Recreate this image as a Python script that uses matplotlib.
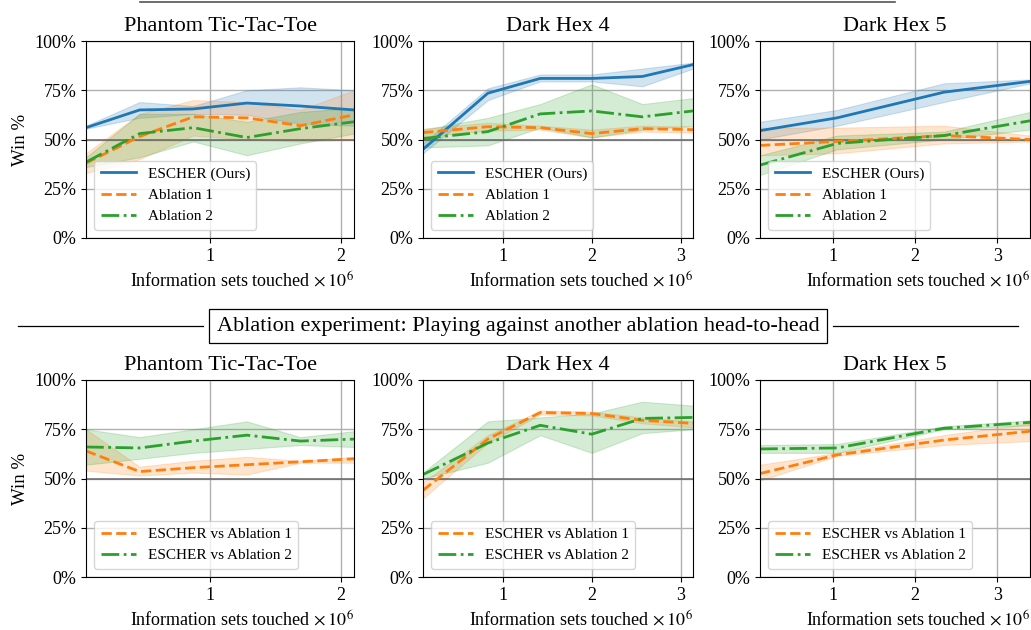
import matplotlib
matplotlib.use("Agg")
import matplotlib.pyplot as plt
from matplotlib.lines import Line2D

plt.rcParams['font.family'] = ['Liberation Serif', 'DejaVu Serif']
plt.rcParams['mathtext.fontset'] = 'stix'

BLUE = '#1f77b4'
ORANGE = '#ff7f0e'
GREEN = '#2ca02c'

# x values in millions of information sets touched
x_ptt = [0.05, 0.46, 0.87, 1.28, 1.69, 2.10]
x_dh4 = [0.10, 0.83, 1.42, 2.00, 2.57, 3.14]
x_dh5 = [0.11, 1.05, 2.35, 3.40]

# top row: ESCHER, Ablation 1, Ablation 2 vs baseline (mean, low, high)
ptt_escher = [56, 65, 65.5, 68.5, 67, 65]
ptt_escher_lo = [55.5, 61, 63, 62.5, 58, 57]
ptt_escher_hi = [57, 69, 67, 75, 76.5, 75]
ptt_abl1 = [38, 51.5, 61.5, 61, 57, 62.5]
ptt_abl1_lo = [33, 40, 52, 50, 49, 50]
ptt_abl1_hi = [43, 63, 70, 69, 65, 75]
ptt_abl2 = [38.5, 53, 56, 51, 55.5, 59]
ptt_abl2_lo = [36, 41, 49, 42, 48, 53]
ptt_abl2_hi = [41, 63, 63, 59, 64, 66]

dh4_escher = [45, 73.5, 81, 81, 82, 88]
dh4_escher_lo = [43, 70, 79.5, 79.5, 77, 86]
dh4_escher_hi = [48, 76, 83, 83, 86, 89]
dh4_abl1 = [53.5, 56.5, 56, 53, 55.5, 55]
dh4_abl1_lo = [51.5, 54.5, 55, 51, 54, 53.5]
dh4_abl1_hi = [55.5, 58.5, 57, 55, 57, 56.5]
dh4_abl2 = [50.5, 54, 63, 64.5, 61.5, 64.5]
dh4_abl2_lo = [46, 47, 56, 51, 55, 57]
dh4_abl2_hi = [55, 61, 68, 78, 68, 71]

dh5_escher = [54.5, 61, 74, 79.5]
dh5_escher_lo = [50, 57, 69, 78.5]
dh5_escher_hi = [59, 65, 78.5, 80.5]
dh5_abl1 = [47, 49, 52, 50]
dh5_abl1_lo = [42, 43, 48, 49]
dh5_abl1_hi = [56, 56, 57, 52]
dh5_abl2 = [37, 48, 52, 59.5]
dh5_abl2_lo = [32, 45, 50, 55]
dh5_abl2_hi = [42, 52, 54, 64]

# bottom row: head-to-head ESCHER vs ablations
h_ptt_a1 = [64, 53.5, 55.5, 57, 58.5, 60]
h_ptt_a1_lo = [54, 51.5, 53, 52, 58, 58]
h_ptt_a1_hi = [75, 56, 59, 61, 59, 61]
h_ptt_a2 = [66, 65.5, 69, 72, 69, 70]
h_ptt_a2_lo = [57, 60, 63, 65, 67, 66]
h_ptt_a2_hi = [75, 71, 75, 79, 71, 74]

h_dh4_a1 = [44, 70, 83.5, 83, 79.5, 78]
h_dh4_a1_lo = [40, 68, 82.5, 82, 78, 76]
h_dh4_a1_hi = [48, 72, 84.5, 84, 81, 79]
h_dh4_a2 = [52, 68, 77, 72.5, 80.5, 81]
h_dh4_a2_lo = [50, 58, 72, 63, 73, 75]
h_dh4_a2_hi = [53, 79, 81, 83, 89, 87]

h_dh5_a1 = [52.5, 62, 69.5, 74]
h_dh5_a1_lo = [49, 61.5, 67, 69]
h_dh5_a1_hi = [57, 63, 72, 78]
h_dh5_a2 = [65, 65.5, 75.5, 78.5]
h_dh5_a2_lo = [63, 63, 75, 77]
h_dh5_a2_hi = [67, 67.5, 76.5, 79.5]

titles = ['Phantom Tic-Tac-Toe', 'Dark Hex 4', 'Dark Hex 5']
xticks = [[1, 2], [1, 2, 3], [1, 2, 3]]
yticks = [0, 25, 50, 75, 100]

fig = plt.figure(figsize=(10.31, 6.30), dpi=100)
W, H = 1031, 630
cols = [(86, 354), (423, 693), (760, 1030)]
rows = [(41, 238), (380, 577)]


def make_ax(r, c):
    l, rt = cols[c]
    t, b = rows[r]
    ax = fig.add_axes([l / W, 1 - b / H, (rt - l) / W, (b - t) / H])
    return ax


def band(ax, x, y, lo, hi, color, ls, label):
    ax.fill_between(x, lo, hi, color=color, alpha=0.2, lw=0.8)
    ax.plot(x, y, color=color, ls=ls, lw=2, label=label)


def style(ax, c, x):
    ax.set_xlim(x[0], x[-1])
    ax.set_ylim(0, 100)
    ax.set_yticks(yticks)
    ax.set_yticklabels(['%d%%' % v for v in yticks])
    ax.set_xticks(xticks[c])
    ax.grid(True, color='#b0b0b0', lw=1)
    ax.axhline(50, color='#666666', lw=1.1, zorder=1.5)
    ax.set_axisbelow(True)
    ax.tick_params(labelsize=13)
    ax.set_title(titles[c], fontsize=16, pad=7)
    ax.set_xlabel('Information sets touched$\\,\\times10^6$', fontsize=13, loc='right', labelpad=4)
    if c == 0:
        ax.set_ylabel('Win %', fontsize=13.5)
    ax.legend(loc='lower left', fontsize=11, borderaxespad=0.55, handlelength=2.3)


top = [
    (x_ptt, [(ptt_escher, ptt_escher_lo, ptt_escher_hi), (ptt_abl1, ptt_abl1_lo, ptt_abl1_hi), (ptt_abl2, ptt_abl2_lo, ptt_abl2_hi)]),
    (x_dh4, [(dh4_escher, dh4_escher_lo, dh4_escher_hi), (dh4_abl1, dh4_abl1_lo, dh4_abl1_hi), (dh4_abl2, dh4_abl2_lo, dh4_abl2_hi)]),
    (x_dh5, [(dh5_escher, dh5_escher_lo, dh5_escher_hi), (dh5_abl1, dh5_abl1_lo, dh5_abl1_hi), (dh5_abl2, dh5_abl2_lo, dh5_abl2_hi)]),
]
bottom = [
    (x_ptt, [(h_ptt_a1, h_ptt_a1_lo, h_ptt_a1_hi), (h_ptt_a2, h_ptt_a2_lo, h_ptt_a2_hi)]),
    (x_dh4, [(h_dh4_a1, h_dh4_a1_lo, h_dh4_a1_hi), (h_dh4_a2, h_dh4_a2_lo, h_dh4_a2_hi)]),
    (x_dh5, [(h_dh5_a1, h_dh5_a1_lo, h_dh5_a1_hi), (h_dh5_a2, h_dh5_a2_lo, h_dh5_a2_hi)]),
]

top_style = [(BLUE, '-', 'ESCHER (Ours)'), (ORANGE, '--', 'Ablation 1'), (GREEN, '-.', 'Ablation 2')]
bot_style = [(ORANGE, '--', 'ESCHER vs Ablation 1'), (GREEN, '-.', 'ESCHER vs Ablation 2')]

for c, (x, series) in enumerate(top):
    ax = make_ax(0, c)
    for (y, lo, hi), (col, ls, lab) in zip(series, top_style):
        band(ax, x, y, lo, hi, col, ls, lab)
    style(ax, c, x)

for c, (x, series) in enumerate(bottom):
    ax = make_ax(1, c)
    for (y, lo, hi), (col, ls, lab) in zip(series, bot_style):
        band(ax, x, y, lo, hi, col, ls, lab)
    style(ax, c, x)

# section headers
fig.add_artist(Line2D([140 / W, 895 / W], [1 - 1.5 / H, 1 - 1.5 / H], color='#555555', lw=1.2))
yh = 1 - 326 / H
fig.add_artist(Line2D([18 / W, 203 / W], [yh, yh], color='black', lw=0.9))
fig.add_artist(Line2D([833 / W, 1018 / W], [yh, yh], color='black', lw=0.9))
fig.text(518 / W, yh, 'Ablation experiment: Playing against another ablation head-to-head',
         ha='center', va='center', fontsize=16,
         bbox=dict(boxstyle='square,pad=0.35', fc='white', ec='black', lw=0.9))

fig.savefig('out.png', dpi=100)
